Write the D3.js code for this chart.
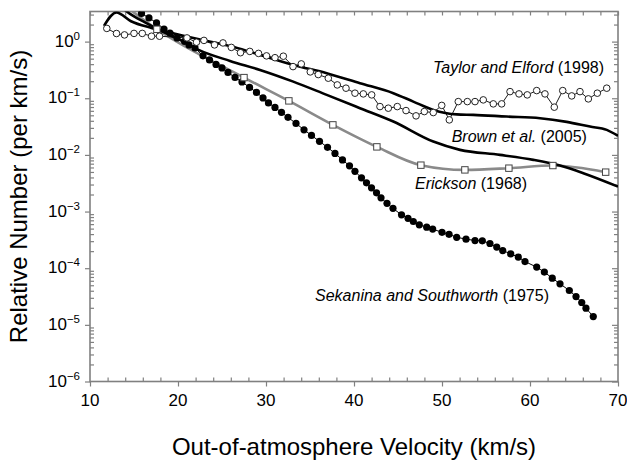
<!DOCTYPE html>
<html><head><meta charset="utf-8">
<script src="https://cdn.jsdelivr.net/npm/d3@7"></script>
<style>body{margin:0;background:#fff;} svg{display:block;font-family:"Liberation Sans",Arial,sans-serif;}</style>
</head><body><svg id="c" width="627" height="464"></svg>
<script>
// ---- data ----
const xTicks=[10,20,30,40,50,60,70];
const yDecades=[1e-6,1e-5,1e-4,1e-3,1e-2,1e-1,1];
const yExponents=["−6","−5","−4","−3","−2","−1","0"];

const taylorX=[11.91,13.01,13.92,15.0,15.94,16.99,17.9,21.02,22.1,22.95,24.15,25.11,26.06,27.1,28.16,29.15,30.06,31.02,31.97,33.07,34.01,35.03,35.94,37.08,38.1,39.09,40.11,41.06,42.01,42.95,43.9,44.92,45.91,47.05,47.99,49.01,49.97,50.83,51.85,52.88,53.75,54.69,55.83,56.78,57.73,58.75,59.69,60.76,61.70,62.76,63.72,64.74,65.68,66.63,67.65,68.72];
const taylorY=[1.71,1.39,1.313,1.395,1.395,1.245,1.245,1.162,0.976,1.05,0.875,0.948,0.79,0.637,0.671,0.619,0.56,0.52,0.5525,0.362,0.404,0.292,0.262,0.226,0.172,0.1506,0.1229,0.1194,0.1147,0.0713,0.0668,0.0713,0.0606,0.0489,0.0582,0.0559,0.0748,0.0415,0.0873,0.0873,0.0873,0.0936,0.0796,0.0796,0.131,0.1194,0.1147,0.1366,0.1194,0.0696,0.1366,0.110,0.131,0.0975,0.1229,0.1506];

const upperX=[11.59,12.99,14.66,16.97,19.66,22.5,26.44,29.32,33.1,36.9,40.68,44.47,46.74,49.01,51.67,53.56,57.35,61.14,64.17,66.82,68.72,70];
const upperY=[1.89,3.27,2.29,1.745,1.37,1.09,0.796,0.583,0.388,0.277,0.1845,0.1229,0.0873,0.0623,0.0519,0.0509,0.0475,0.0445,0.0383,0.0316,0.0277,0.0217];

const brownX=[13.18,14.55,16.25,17.95,20.23,22.27,25.91,29.32,33.1,36.9,40.68,44.47,49.01,52.05,56.59,60.38,63.41,66.06,70];
const brownY=[4.6,3.08,2.18,1.576,1.07,0.723,0.456,0.3167,0.1968,0.1147,0.0668,0.0388,0.01719,0.01227,0.01002,0.00818,0.00649,0.00476,0.00276];

const ericksonX=[13.41,17.6,27.5,32.6,37.6,42.6,47.6,52.6,57.6,62.6,68.6];
const ericksonY=[5.0,1.65,0.2316,0.0899,0.0339,0.01386,0.00659,0.00544,0.00583,0.00649,0.00496];

const sekX=[14.89,15.85,16.70,17.56,18.41,19.09,19.89,20.74,21.25,21.93,22.84,23.58,24.32,25.00,25.68,26.48,27.27,28.13,28.92,29.66,30.28,31.02,31.76,32.50,33.41,34.32,35.17,36.08,36.99,37.84,38.69,39.49,40.11,40.85,41.42,41.99,42.56,43.07,43.75,44.43,45.40,46.14,46.74,47.42,48.26,48.94,50.00,50.80,51.67,52.73,53.75,54.58,55.45,56.22,56.90,57.81,58.67,59.43,60.76,61.63,62.53,63.41,64.47,65.23,65.88,66.36,67.19];
const sekY=[4.6,3.15,2.62,2.14,1.67,1.42,1.16,1.01,0.875,0.774,0.56,0.475,0.396,0.343,0.286,0.233,0.1945,0.1555,0.127,0.1015,0.0828,0.069,0.0564,0.046,0.036,0.0277,0.0221,0.01734,0.0136,0.01064,0.00817,0.00641,0.00512,0.00394,0.00321,0.00262,0.00214,0.001746,0.001396,0.001138,0.000875,0.000759,0.000667,0.000582,0.000531,0.00049,0.00043,0.000396,0.000351,0.000326,0.000308,0.000304,0.000273,0.000236,0.000205,0.000179,0.000157,0.000131,0.0001045,0.0000853,0.0000668,0.000053,0.0000404,0.0000316,0.0000248,0.0000197,0.000014];

const labels=[
  {it:"Taylor and Elford",rest:" (1998)",x:48.98,y:0.28},
  {it:"Brown et al.",rest:" (2005)",x:51.1,y:0.017},
  {it:"Erickson",rest:" (1968)",x:46.93,y:0.00251},
  {it:"Sekanina and Southworth",rest:" (1975)",x:35.57,y:2.66e-5}
];

// ---- chart ----
const svg=d3.select("#c");
const L=90,R=618,T=11.5,B=381.5;
const x=d3.scaleLinear().domain([10,70]).range([L,R]);
const y=d3.scaleLog().domain([1e-6,3.4]).range([B,T]);
const axisCol="#808080";

const zip=(a,b)=>a.map((v,i)=>({x:v,y:b[i]}));
const inside=d=>d.y<=y.domain()[1]&&d.x>=10&&d.x<=70;

// minor ticks
const yMinor=[];
yDecades.forEach(d=>{for(let k=2;k<=9;k++){const v=d*k;if(v<=3.4)yMinor.push(v);}});
const xMinor=d3.range(12,70,2).filter(v=>v%10!==0);
const xAll=d3.range(10,71,2);

function styleAxis(g){g.select(".domain").remove();g.selectAll("line").attr("stroke",axisCol).attr("stroke-width",1.2);}

svg.append("g").attr("transform",`translate(${L},0)`).call(d3.axisLeft(y).tickValues(yDecades).tickSize(5).tickFormat("")).call(styleAxis);
svg.append("g").attr("transform",`translate(${L},0)`).call(d3.axisRight(y).tickValues(yMinor).tickSize(4).tickFormat("")).call(styleAxis);
svg.append("g").attr("transform",`translate(${R},0)`).call(d3.axisLeft(y).tickValues(yMinor).tickSize(4).tickFormat("")).call(styleAxis);
svg.append("g").attr("transform",`translate(${R},0)`).call(d3.axisLeft(y).tickValues(yDecades).tickSize(6).tickFormat("")).call(styleAxis);
svg.append("g").attr("transform",`translate(0,${B})`).call(d3.axisBottom(x).tickValues(xTicks).tickSize(5).tickFormat("")).call(styleAxis);
svg.append("g").attr("transform",`translate(0,${B})`).call(d3.axisTop(x).tickValues(xMinor).tickSize(4).tickFormat("")).call(styleAxis);
svg.append("g").attr("transform",`translate(0,${T})`).call(d3.axisBottom(x).tickValues(xAll).tickSize(4).tickFormat("")).call(styleAxis);

svg.append("rect").attr("x",L).attr("y",T).attr("width",R-L).attr("height",B-T)
  .attr("fill","none").attr("stroke",axisCol).attr("stroke-width",1.6);

// tick labels
const yl=svg.append("g").attr("font-size",17).attr("fill","#000");
yDecades.forEach((d,i)=>{
  const t=yl.append("text").attr("x",L-10).attr("y",y(d)+5).attr("text-anchor","end");
  t.append("tspan").text("10");
  t.append("tspan").attr("font-size",11.5).attr("dy",-7).text(yExponents[i]);
});
svg.append("g").selectAll("text").data(xTicks).join("text")
  .attr("x",d=>x(d)).attr("y",B+24).attr("text-anchor","middle").attr("font-size",17).text(d=>d);

// titles
svg.append("text").attr("x",(L+R)/2).attr("y",455).attr("text-anchor","middle").attr("font-size",24).text("Out-of-atmosphere Velocity (km/s)");
svg.append("text").attr("transform",`translate(27,${(T+B)/2}) rotate(-90)`).attr("text-anchor","middle").attr("font-size",24).text("Relative Number (per km/s)");

// plot
svg.append("clipPath").attr("id","clip").append("rect").attr("x",L).attr("y",T).attr("width",R-L).attr("height",B-T);
const p=svg.append("g").attr("clip-path","url(#clip)");
const smooth=d3.line().x(d=>x(d.x)).y(d=>y(d.y)).curve(d3.curveMonotoneX);
const straight=d3.line().x(d=>x(d.x)).y(d=>y(d.y));

const eric=zip(ericksonX,ericksonY), up=zip(upperX,upperY), br=zip(brownX,brownY), sek=zip(sekX,sekY), tay=zip(taylorX,taylorY);

p.append("path").attr("d",smooth(eric)).attr("fill","none").attr("stroke","#8a8a8a").attr("stroke-width",2.6);
p.append("path").attr("d",smooth(up)).attr("fill","none").attr("stroke","#000").attr("stroke-width",2.6);
p.append("path").attr("d",smooth(br)).attr("fill","none").attr("stroke","#000").attr("stroke-width",2.6);
p.append("path").attr("d",straight(sek)).attr("fill","none").attr("stroke","#000").attr("stroke-width",1);
p.append("g").selectAll("circle").data(sek.filter(inside)).join("circle")
  .attr("cx",d=>x(d.x)).attr("cy",d=>y(d.y)).attr("r",3.6).attr("fill","#000");
p.append("g").selectAll("rect").data(eric.filter(inside)).join("rect")
  .attr("x",d=>x(d.x)-3.2).attr("y",d=>y(d.y)-3.2).attr("width",6.4).attr("height",6.4)
  .attr("fill","#fff").attr("stroke","#444").attr("stroke-width",1);
p.append("path").attr("d",straight(tay)).attr("fill","none").attr("stroke","#000").attr("stroke-width",0.9);
p.append("g").selectAll("circle").data(tay.filter(inside)).join("circle")
  .attr("cx",d=>x(d.x)).attr("cy",d=>y(d.y)).attr("r",3.3).attr("fill","#fff").attr("stroke","#222").attr("stroke-width",1);

// annotations
labels.forEach(l=>{
  const t=svg.append("text").attr("x",x(l.x)).attr("y",y(l.y)).attr("font-size",16);
  t.append("tspan").attr("font-style","italic").text(l.it);
  t.append("tspan").text(l.rest);
});
</script></body></html>
